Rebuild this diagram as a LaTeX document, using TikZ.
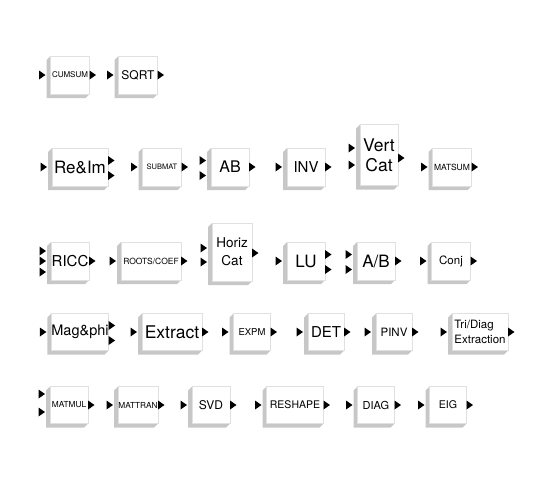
\documentclass[tikz,border=0pt]{standalone}
\usepackage{fontspec}
\setmainfont{TeX Gyre Heros}
\usetikzlibrary{shapes.geometric, backgrounds}

\begin{document}
\begin{tikzpicture}[
    x=1pt, y=-1pt,
    blk/.style={rectangle, draw=black!12, fill=white, inner sep=0pt, outer sep=0pt, minimum width=38pt, minimum height=38pt, text centered},
    shade3d/.style={fill=black!22},
    inport/.style={isosceles triangle, isosceles triangle stretches, fill=black, inner sep=0pt, outer sep=0pt, minimum width=9pt, minimum height=6.5pt, anchor=apex},
    outport/.style={inport, anchor=west}
]
\useasboundingbox (0,0) rectangle (557,483);

% Row 1
\node[blk, minimum width=39pt, font=\fontsize{8}{9}\selectfont] (cumsum) at (70,75) {CUMSUM};
\node[blk, minimum width=39pt, font=\fontsize{12}{14}\selectfont] (sqrt) at (138,75) {SQRT};

% Row 2
\node[blk, minimum width=56pt, font=\fontsize{17}{19}\selectfont] (reim) at (80,167) {Re\&Im};
\node[blk, minimum width=39pt, font=\fontsize{7.5}{9}\selectfont] (submat) at (162,167) {SUBMAT};
\node[blk, font=\fontsize{16}{18}\selectfont] (ab) at (230,167) {AB};
\node[blk, font=\fontsize{15}{17}\selectfont] (inv) at (306,167) {INV};
\node[blk, minimum height=61pt, align=center, font=\fontsize{17.5}{20}\selectfont] (vertcat) at (379,155) {Vert\\Cat};
\node[blk, minimum width=39pt, font=\fontsize{8.5}{10}\selectfont] (matsum) at (452,167) {MATSUM};

% Row 3
\node[blk, font=\fontsize{15}{17}\selectfont] (ricc) at (70,261) {RICC};
\node[blk, minimum width=60pt, font=\fontsize{8.5}{10}\selectfont] (roots) at (151,261) {ROOTS/COEF};
\node[blk, minimum width=40pt, minimum height=58pt, align=center, font=\fontsize{13.5}{18}\selectfont] (horizcat) at (232,252) {Horiz\\Cat};
\node[blk, font=\fontsize{17}{19}\selectfont] (lu) at (306,261) {LU};
\node[blk, font=\fontsize{17}{19}\selectfont] (adivb) at (376,261) {A/B};
\node[blk, minimum width=39pt, font=\fontsize{11.5}{13}\selectfont] (conj) at (451,261) {Conj};

% Row 4
\node[blk, minimum width=57pt, minimum height=37pt, font=\fontsize{14.5}{17}\selectfont] (magphi) at (80,332) {Mag\&phi};
\node[blk, minimum width=60pt, minimum height=37pt, font=\fontsize{17.5}{20}\selectfont] (extract) at (172,332) {Extract};
\node[blk, minimum width=37pt, minimum height=37pt, font=\fontsize{9.5}{11}\selectfont] (expm) at (252,332) {EXPM};
\node[blk, minimum width=36pt, minimum height=37pt, font=\fontsize{15}{17}\selectfont] (det) at (326,332) {DET};
\node[blk, minimum width=36pt, minimum height=37pt, font=\fontsize{11.5}{13}\selectfont] (pinv) at (394,332) {PINV};
\node[blk, minimum width=56pt, minimum height=37pt, align=left, font=\fontsize{11.5}{15}\selectfont] (tridiag) at (480,332) {Tri/Diag\\Extraction};

% Row 5
\node[blk, minimum height=37pt, font=\fontsize{8.3}{10}\selectfont] (matmul) at (69,405) {MATMUL};
\node[blk, minimum width=40pt, minimum height=37pt, font=\fontsize{8.3}{10}\selectfont] (mattran) at (138,405) {MATTRAN};
\node[blk, minimum height=37pt, font=\fontsize{12}{14}\selectfont] (svd) at (211,405) {SVD};
\node[blk, minimum width=57pt, minimum height=37pt, font=\fontsize{10.5}{12}\selectfont] (reshape) at (295,405) {RESHAPE};
\node[blk, minimum width=37pt, minimum height=37pt, font=\fontsize{11}{13}\selectfont] (diag) at (376,405) {DIAG};
\node[blk, minimum width=37pt, minimum height=37pt, font=\fontsize{10.6}{12}\selectfont] (eig) at (448,405) {EIG};

% 3D sides, left and below each block
\begin{scope}[on background layer]
\foreach \b in {cumsum, sqrt, reim, submat, ab, inv, vertcat, matsum, ricc, roots, horizcat, lu, adivb, conj, magphi, extract, expm, det, pinv, tridiag, matmul, mattran, svd, reshape, diag, eig} {
  \fill[shade3d] (\b.north west) -- ([xshift=-4pt, yshift=-4pt]\b.north west) -- ([xshift=-4pt, yshift=-4pt]\b.south west)
    -- ([xshift=-4pt, yshift=-4pt]\b.south east) -- (\b.south east) -- cycle;
}
\end{scope}

% Ports, one in and one out
\foreach \b in {cumsum, sqrt, submat, inv, matsum, roots, conj, extract, expm, det, pinv, tridiag, mattran, svd, reshape, diag, eig} {
  \node[inport] (\b-in) at ([xshift=-5pt]\b.west) {};
  \node[outport] (\b-out) at (\b.east) {};
}

% Ports, several in or out
\node[inport] (reim-in) at ([xshift=-5pt]reim.west) {};
\node[outport] (reim-out1) at ([yshift=6.5pt]reim.east) {};
\node[outport] (reim-out2) at ([yshift=-8.5pt]reim.east) {};
\node[inport] (ab-in1) at ([xshift=-5pt, yshift=6.5pt]ab.west) {};
\node[inport] (ab-in2) at ([xshift=-5pt, yshift=-8.5pt]ab.west) {};
\node[outport] (ab-out) at (ab.east) {};
\node[inport] (vertcat-in1) at ([xshift=-5pt, yshift=7pt]vertcat.west) {};
\node[inport] (vertcat-in2) at ([xshift=-5pt, yshift=-10pt]vertcat.west) {};
\node[outport] (vertcat-out) at ([yshift=-3pt]vertcat.east) {};
\node[inport] (ricc-in1) at ([xshift=-5pt, yshift=10pt]ricc.west) {};
\node[inport] (ricc-in2) at ([xshift=-5pt]ricc.west) {};
\node[inport] (ricc-in3) at ([xshift=-5pt, yshift=-11pt]ricc.west) {};
\node[outport] (ricc-out) at (ricc.east) {};
\node[inport] (horizcat-in1) at ([xshift=-5pt, yshift=4pt]horizcat.west) {};
\node[inport] (horizcat-in2) at ([xshift=-5pt, yshift=-10pt]horizcat.west) {};
\node[outport] (horizcat-out) at ([yshift=-1pt]horizcat.east) {};
\node[inport] (lu-in) at ([xshift=-5pt]lu.west) {};
\node[outport] (lu-out1) at ([yshift=6.5pt]lu.east) {};
\node[outport] (lu-out2) at ([yshift=-8.5pt]lu.east) {};
\node[inport] (adivb-in1) at ([xshift=-5pt, yshift=6.5pt]adivb.west) {};
\node[inport] (adivb-in2) at ([xshift=-5pt, yshift=-8.5pt]adivb.west) {};
\node[outport] (adivb-out) at (adivb.east) {};
\node[inport] (magphi-in) at ([xshift=-5pt]magphi.west) {};
\node[outport] (magphi-out1) at ([yshift=6.5pt]magphi.east) {};
\node[outport] (magphi-out2) at ([yshift=-8.5pt]magphi.east) {};
\node[inport] (matmul-in1) at ([xshift=-5pt, yshift=11pt]matmul.west) {};
\node[inport] (matmul-in2) at ([xshift=-5pt, yshift=-7pt]matmul.west) {};
\node[outport] (matmul-out) at (matmul.east) {};

\end{tikzpicture}
\end{document}
